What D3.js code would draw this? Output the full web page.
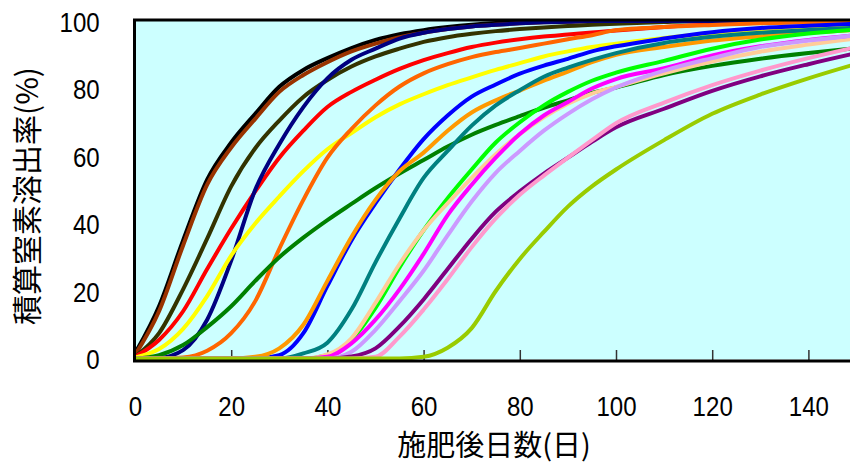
<!DOCTYPE html>
<html>
	<head>
		<meta charset="utf-8">
		<title>積算窒素溶出率</title>
		<style>
			body, html { margin: 0; padding: 0; background: #fff; }
			text { font-family: 'Liberation Sans', Arial, sans-serif; }
			.jp { font-family: 'Noto Sans CJK JP', sans-serif; }
		</style>
	</head>
	<body>

		<svg id="svg" width="850" height="464"></svg>

		<script src="https://d3js.org/d3.v7.min.js"></script>
		<script>
			// Days after fertilising (shared x values for every series)
			const days = [0, 5, 10, 15, 20, 25, 30, 35, 40, 45, 50, 55, 60, 65, 70, 75, 80, 85, 90, 95, 100, 110, 120, 130, 140, 150]

			// Cumulative N release (%), one array per product
			const black      = [1.5, 15.5, 35, 53, 64, 72.5, 80.5, 85.5, 89, 92, 94.4, 96.1, 97.3, 98.2, 98.9, 99.4, 99.7, 99.9, 100, 100, 100, 100, 100, 100, 100, 100]
			const brown      = [1, 14, 33.5, 51.5, 62.5, 71, 79, 84, 87.8, 91, 93.3, 95.2, 96.5, 97.6, 98.4, 98.9, 99.3, 99.6, 99.8, 99.9, 100, 100, 100, 100, 100, 100]
			const olive      = [0.5, 7.5, 20.5, 35.5, 51, 62.3, 70.5, 77.5, 82.5, 86.5, 89.5, 91.8, 93.8, 95.2, 96.2, 97, 97.6, 98.1, 98.5, 98.9, 99.2, 99.7, 100, 100, 100, 100]
			const red        = [0.5, 5.5, 14, 26.5, 38.5, 49.5, 59.5, 67.5, 74.5, 79, 82.6, 85.8, 88.4, 90.5, 92.3, 93.6, 94.6, 95.4, 96, 96.6, 97.2, 98.2, 99, 99.5, 99.8, 100]
			const navy       = [0, 0.2, 2.5, 11.5, 29, 50, 63.5, 74.5, 83, 88.5, 91.8, 94.8, 96.5, 97.6, 98.4, 98.9, 99.3, 99.6, 99.8, 100, 100, 100, 100, 100, 100, 100]
			const yellow     = [0.3, 2.8, 8.8, 18.5, 30.5, 40, 48, 55.5, 62, 66.8, 71.5, 75.3, 78.3, 81, 83.3, 85.5, 87.5, 89.5, 91, 92.3, 93.3, 95, 96.3, 97.2, 97.8, 98.3]
			const orange     = [0, 0, 0.3, 2.3, 7.5, 17, 32.5, 47, 59.5, 68, 75, 80.6, 84.5, 87.2, 89.3, 90.8, 92, 93.3, 94.6, 95.8, 97.3, 98.2, 98.8, 99.3, 99.6, 99.8]
			const darkGreen  = [0, 1, 4, 9.3, 15.5, 23, 30, 35.8, 41, 45.8, 50.5, 54.8, 58.8, 62.8, 66.3, 69.2, 71.8, 74.3, 76.5, 78.7, 80.3, 84, 86.7, 88.8, 90.5, 92]
			const blue       = [0, 0, 0, 0, 0, 0, 1, 7.5, 21.5, 35, 46, 56, 65, 72, 77.6, 81.2, 84.4, 86.8, 88.8, 91, 92.5, 94.8, 96.7, 97.9, 98.6, 99.2]
			const amber      = [0, 0, 0, 0, 0, 0.5, 3, 10, 23, 36, 47, 55.5, 61, 67.5, 72.9, 76.5, 79.4, 82.3, 85, 87.8, 90, 92.3, 94.2, 95.5, 96.5, 97.4]
			const teal       = [0, 0, 0, 0, 0, 0, 0, 1.5, 4.7, 14.5, 28.5, 41.5, 53.5, 61.5, 69, 75, 79.5, 83.5, 86.2, 88.5, 90.5, 93.5, 95.3, 96.5, 97.3, 98]
			const lime       = [0, 0, 0, 0, 0, 0, 0, 0, 1, 5.5, 15, 27, 38, 47.5, 56, 64, 70, 75, 79, 82.3, 84.7, 88.2, 91.8, 94.5, 96.3, 97.5]
			const peach      = [0, 0, 0, 0, 0, 0, 0, 0, 1.2, 6, 16.5, 28, 38, 46, 53.5, 60.5, 66.5, 71.5, 75.5, 78.5, 80.5, 84.5, 88, 90.9, 93, 94.8]
			const magenta    = [0, 0, 0, 0, 0, 0, 0, 0, 0.5, 4.5, 11.5, 20.5, 31, 42.5, 51.5, 59.5, 66.5, 72, 76, 80, 82.8, 86, 89.8, 92.5, 94.4, 95.8]
			const lavender   = [0, 0, 0, 0, 0, 0, 0, 0, 0, 2, 8.5, 17, 26, 36.5, 46.5, 55, 61.5, 67.5, 72.5, 76.8, 80.3, 85.3, 89, 92.3, 94.2, 95.8]
			const purple     = [0, 0, 0, 0, 0, 0, 0, 0, 0, 0.6, 3, 9.5, 17.5, 26.5, 35.5, 43.5, 49.5, 54.8, 59.5, 64.2, 68.5, 74, 79.3, 83.6, 87.2, 90.5]
			const pink       = [0, 0, 0, 0, 0, 0, 0, 0, 0, 0, 0.5, 6.5, 14.5, 23.5, 33, 41.5, 48.5, 54.2, 59.5, 64.7, 69.7, 75.8, 81, 85.3, 89, 92.3]
			const yellowGreen = [0, 0, 0, 0, 0, 0, 0, 0, 0, 0, 0, 0, 0.5, 3.2, 9, 20, 29.5, 37.5, 45, 51, 56, 64.7, 72.5, 78.2, 83, 87.3]

			const series = [black, brown, olive, red, navy, yellow, orange, darkGreen, blue, amber,
				teal, lime, peach, magenta, lavender, purple, pink, yellowGreen]
			const colors = ['#000000', '#993300', '#333300', '#ff0000', '#000080', '#ffff00', '#ff6600', '#008000', '#0000ff', '#ff9900',
				'#008080', '#00ff00', '#ffcc99', '#ff00ff', '#cc99ff', '#800080', '#ff99cc', '#99cc00']

			const xTicks = [0, 20, 40, 60, 80, 100, 120, 140]
			const yTicks = [0, 20, 40, 60, 80, 100]

			const plotLeft = 135, plotRight = 850, plotTop = 21, plotBottom = 358.5

			const x = d3.scaleLinear().domain([0, 150]).range([plotLeft, plotLeft + 150 * 4.81])
			const y = d3.scaleLinear().domain([0, 100]).range([plotBottom, plotTop])

			const svg = d3.select('#svg')

			// plot background
			svg.append('rect')
				.attr('x', plotLeft).attr('y', plotTop - 1)
				.attr('width', plotRight - plotLeft).attr('height', plotBottom - plotTop + 2)
				.attr('fill', '#ccffff')

			svg.append('clipPath').attr('id', 'clip')
				.append('rect')
				.attr('x', plotLeft).attr('y', plotTop - 2)
				.attr('width', plotRight - plotLeft).attr('height', plotBottom - plotTop + 5)

			// bottom axis: inner ticks and labels
			const xAxis = svg.append('g')
				.attr('transform', `translate(0, ${plotBottom + 2.5})`)
				.call(d3.axisBottom(x).tickValues(xTicks).tickSizeInner(-11).tickSizeOuter(0).tickPadding(35))
			xAxis.select('.domain').remove()
			xAxis.selectAll('.tick line').attr('stroke', '#333').attr('stroke-width', 1.5)
			xAxis.selectAll('.tick').filter(d => d === 0).select('line').remove()
			xAxis.selectAll('text')
				.attr('font-size', 28).attr('fill', '#000')
				.attr('transform', 'scale(0.86,1)')
				.attr('font-family', "'Liberation Sans', Arial, sans-serif")

			// y labels only
			const yAxis = svg.append('g')
				.attr('transform', `translate(${plotLeft}, 0)`)
				.call(d3.axisLeft(y).tickValues(yTicks).tickSize(0).tickPadding(41))
			yAxis.select('.domain').remove()
			yAxis.selectAll('text')
				.attr('font-size', 28).attr('fill', '#000')
				.attr('dy', '0.36em')
				.attr('transform', 'scale(0.86,1)')
				.attr('font-family', "'Liberation Sans', Arial, sans-serif")

			// lines
			const line = d3.line()
				.x((d, i) => x(days[i]))
				.y(d => y(d))
				.curve(d3.curveMonotoneX)

			svg.append('g')
				.attr('clip-path', 'url(#clip)')
				.selectAll('path')
				.data(series)
				.enter()
				.append('path')
				.attr('d', line)
				.attr('fill', 'none')
				.attr('stroke', (d, i) => colors[i])
				.attr('stroke-width', 4)
				.attr('stroke-linejoin', 'round')

			// frame: left, top, bottom
			svg.append('path')
				.attr('d', `M${plotRight},${plotTop - 1}H${plotLeft - 0.5}V${plotBottom + 2.5}H${plotRight}`)
				.attr('fill', 'none')
				.attr('stroke', '#000')
				.attr('stroke-width', 3)

			// axis titles
			svg.append('text')
				.attr('class', 'jp')
				.attr('transform', 'translate(38, 196) rotate(-90)')
				.attr('text-anchor', 'middle')
				.attr('font-size', 30)
				.text('積算窒素溶出率(%)')

			svg.append('text')
				.attr('class', 'jp')
				.attr('x', 494).attr('y', 455.5)
				.attr('text-anchor', 'middle')
				.attr('font-size', 29)
				.text('施肥後日数(日)')
		</script>
	</body>
</html>
